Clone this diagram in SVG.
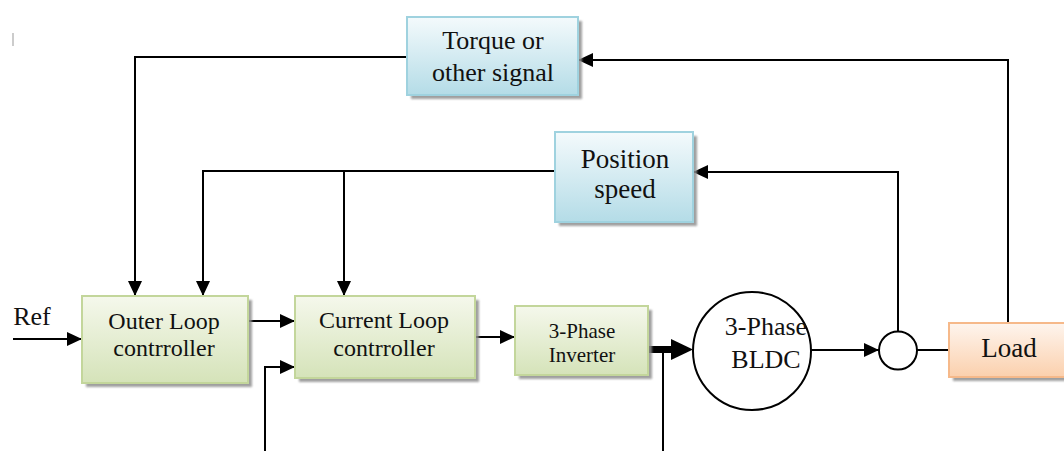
<svg xmlns="http://www.w3.org/2000/svg" width="1064" height="451" viewBox="0 0 1064 451">
<defs>
<linearGradient id="gBlue" x1="0" y1="0" x2="0" y2="1"><stop offset="0" stop-color="#f4fafc"/><stop offset="1" stop-color="#b4dce7"/></linearGradient>
<linearGradient id="gGreen" x1="0" y1="0" x2="0" y2="1"><stop offset="0" stop-color="#f5f8ec"/><stop offset="1" stop-color="#d5e3b9"/></linearGradient>
<linearGradient id="gOrange" x1="0" y1="0" x2="0" y2="1"><stop offset="0" stop-color="#fef5ee"/><stop offset="1" stop-color="#fbd0ad"/></linearGradient>
<filter id="blur" x="-10%" y="-10%" width="120%" height="120%"><feGaussianBlur stdDeviation="1"/></filter>
<marker id="arr" markerUnits="userSpaceOnUse" markerWidth="15" markerHeight="14" refX="15" refY="7" orient="auto"><path d="M0,0 L15,7 L0,14 z" fill="#000"/></marker>
</defs>
<style>
.shadow{fill:#8f8f8f;opacity:0.85;filter:url(#blur)}
.blue{fill:url(#gBlue);stroke:#9fd2df;stroke-width:2}
.green{fill:url(#gGreen);stroke:#c3d69b;stroke-width:2}
.orange{fill:url(#gOrange);stroke:#f6b98a;stroke-width:2}
.t{font-family:"Liberation Serif","Times New Roman",serif;fill:#111;text-anchor:middle}
.c{fill:none;stroke:#000;stroke-width:2}
.ca{fill:none;stroke:#000;stroke-width:2;marker-end:url(#arr)}
</style>
<line x1="13" y1="33" x2="13" y2="46" stroke="#999" stroke-width="1"/>
<g id="connectors">
<path class="ca" d="M407,57 H135 V296"/>
<path class="ca" d="M1008,323 V60 H578"/>
<path class="ca" d="M555,171 H203 V296"/>
<path class="ca" d="M344,171 V296"/>
<path class="ca" d="M898,331 V172 H693"/>
<path class="ca" d="M13,339 H82"/>
<path class="ca" d="M248,321 H295"/>
<path class="ca" d="M265,451 V367 H295"/>
<path class="ca" d="M475,337 H515"/>
<path d="M648,349.5 H674" fill="none" stroke="#000" stroke-width="7"/>
<path d="M671,339 L693,349.5 L671,360 z" fill="#000"/>
<path class="c" d="M663,349 V451"/>
<path class="ca" d="M811,350 H879"/>
<path class="c" d="M917,350 H949"/>
</g>
<g id="torque">
<rect class="shadow" x="411" y="21" width="171" height="78"/>
<rect class="blue" x="407" y="17" width="171" height="78"/>
<text class="t" font-size="26" x="493" y="49">Torque or</text>
<text class="t" font-size="26" x="493" y="81">other signal</text>
</g>
<g id="position">
<rect class="shadow" x="559" y="136" width="138" height="90"/>
<rect class="blue" x="555" y="132" width="138" height="90"/>
<text class="t" font-size="27" x="625" y="168">Position</text>
<text class="t" font-size="27" x="625" y="198">speed</text>
</g>
<g id="ref">
<text class="t" font-size="26" x="32" y="325">Ref</text>
</g>
<g id="outer">
<rect class="shadow" x="86" y="300" width="166" height="87"/>
<rect class="green" x="82" y="296" width="166" height="87"/>
<text class="t" font-size="24" x="164" y="329">Outer Loop</text>
<text class="t" font-size="24" x="164" y="356">contrroller</text>
</g>
<g id="current">
<rect class="shadow" x="299" y="300" width="180" height="82"/>
<rect class="green" x="295" y="296" width="180" height="82"/>
<text class="t" font-size="24" x="384" y="328">Current Loop</text>
<text class="t" font-size="24" x="384" y="356">contrroller</text>
</g>
<g id="inverter">
<rect class="shadow" x="519" y="310" width="133" height="69"/>
<rect class="green" x="515" y="306" width="133" height="69"/>
<text class="t" font-size="21" x="582" y="338">3-Phase</text>
<text class="t" font-size="21" x="582" y="362">Inverter</text>
</g>
<g id="bldc">
<circle cx="752" cy="351" r="59" fill="#fff" stroke="#000" stroke-width="2"/>
<text class="t" font-size="26" x="766" y="335">3-Phase</text>
<text class="t" font-size="26" x="766" y="368">BLDC</text>
</g>
<g id="junction">
<circle cx="898" cy="350.5" r="19" fill="#fff" stroke="#000" stroke-width="2"/>
</g>
<g id="load">
<rect class="shadow" x="953" y="327" width="130" height="54"/>
<rect class="orange" x="949" y="323" width="130" height="54"/>
<text class="t" font-size="27" x="1009" y="357">Load</text>
</g>
</svg>
